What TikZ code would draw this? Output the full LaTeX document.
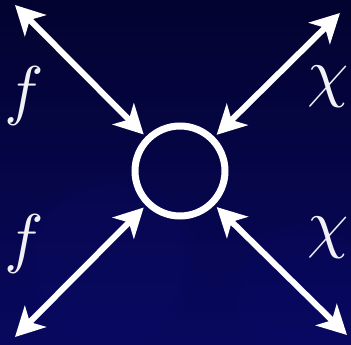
\documentclass[tikz,border=0pt]{standalone}
\usepackage{graphicx}
\usetikzlibrary{arrows.meta,fadings}
\definecolor{bgtop}{RGB}{3,3,48}
\definecolor{bgbot}{RGB}{8,8,95}
\definecolor{blob}{RGB}{16,16,130}
\definecolor{labelgray}{RGB}{240,240,245}
\newcommand{\biglab}[1]{\scalebox{6.6}{$#1$}}
\tikzset{
  leg/.style={white, line width=6pt,
    {Stealth[length=29pt,width=30pt,inset=8pt]}-{Stealth[length=29pt,width=30pt,inset=8pt]},
    shorten >=3pt},
  vertex/.style={circle, draw=white, line width=7pt, minimum size=90pt, inner sep=0pt},
  lab/.style={text=labelgray, inner sep=0pt},
  glow/.style={fill=blob, path fading=circle with fuzzy edge 20 percent}
}
\begin{document}
\begin{tikzpicture}[x=1pt,y=-1pt]
  \useasboundingbox (0,0) rectangle (351,345);
  \shade[top color=bgtop, bottom color=bgbot] (0,0) rectangle (351,345);
  \fill[glow, opacity=0.12] (110,260) circle (90pt);
  \fill[glow, opacity=0.1] (300,290) circle (70pt);
  \node[vertex] (v) at (180,171) {};
  \coordinate (tl) at (15,5);
  \coordinate (tr) at (340,13);
  \coordinate (bl) at (15,337);
  \coordinate (br) at (347,335);
  \draw[leg] (tl) -- (v);
  \draw[leg] (tr) -- (v);
  \draw[leg] (bl) -- (v);
  \draw[leg] (br) -- (v);
  \node[lab] (f1) at (24,96) {\biglab{f}};
  \node[lab] (f2) at (24,244) {\biglab{f}};
  \node[lab] (c1) at (328,87) {\biglab{\chi}};
  \node[lab] (c2) at (328,238) {\biglab{\chi}};
\end{tikzpicture}
\end{document}
